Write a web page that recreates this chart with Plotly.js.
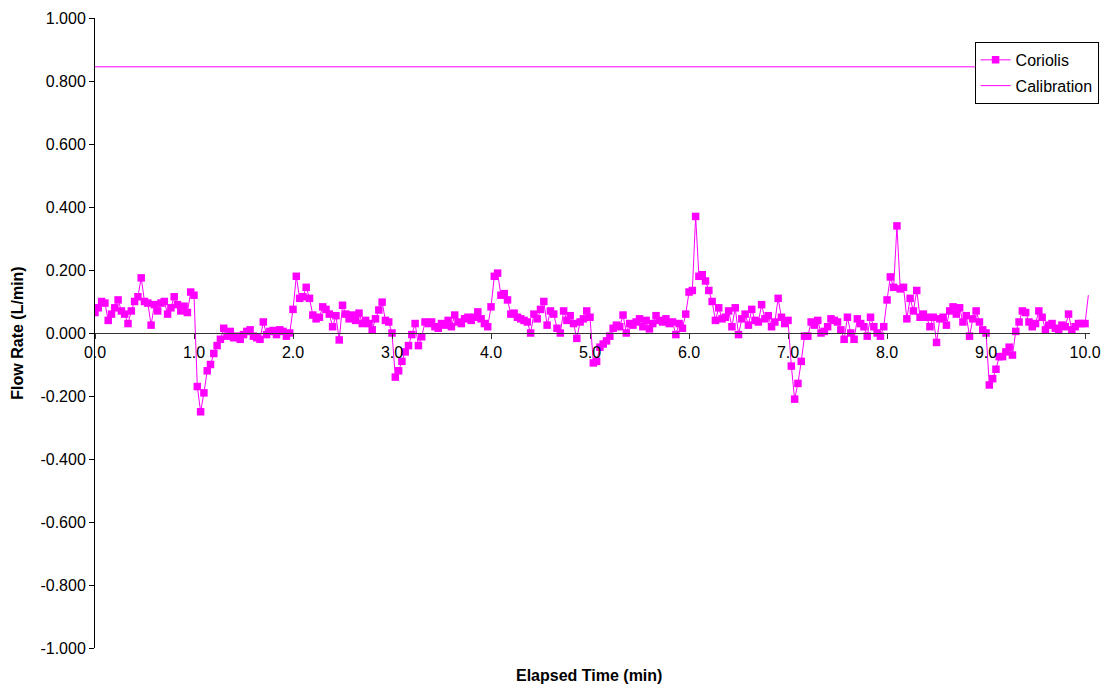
<!DOCTYPE html>
<html>
<head>
<meta charset="utf-8">
<script src="https://cdn.plot.ly/plotly-3.0.1.min.js"></script>
<style>html,body{margin:0;padding:0;background:#fff;}#chart{width:1105px;height:688px;}</style>
</head>
<body>
<div id="chart"></div>
<script>
// Coriolis flow rate (L/min), one reading every 2 s (1/30 min), grouped by minute
const coriolisMin0 = [0.065,0.080,0.100,0.095,0.040,0.060,0.080,0.105,0.070,0.060,0.030,0.070,0.100,0.115,0.175,0.100,0.095,0.025,0.090,0.070,0.095,0.100,0.060,0.080,0.115,0.090,0.070,0.085,0.065,0.130];
const coriolisMin1 = [0.120,-0.170,-0.250,-0.190,-0.120,-0.100,-0.065,-0.040,-0.020,0.015,-0.010,0.005,-0.015,-0.010,-0.020,-0.005,0.005,0.010,-0.010,-0.015,-0.020,0.035,-0.005,0.005,0.008,-0.005,0.010,0.005,-0.010,0.000];
const coriolisMin2 = [0.075,0.180,0.110,0.115,0.145,0.110,0.057,0.045,0.050,0.083,0.075,0.060,0.020,0.055,-0.022,0.088,0.060,0.045,0.057,0.040,0.063,0.030,0.040,0.030,0.010,0.045,0.073,0.098,0.040,0.035];
const coriolisMin3 = [0.000,-0.140,-0.120,-0.090,-0.060,-0.040,-0.005,0.030,-0.040,-0.012,0.035,0.030,0.035,0.020,0.015,0.030,0.025,0.040,0.020,0.057,0.035,0.030,0.045,0.050,0.040,0.050,0.067,0.045,0.030,0.020];
const coriolisMin4 = [0.083,0.180,0.190,0.120,0.125,0.105,0.060,0.063,0.050,0.045,0.040,0.035,0.000,0.060,0.045,0.075,0.100,0.025,0.070,0.060,0.015,0.000,0.070,0.040,0.055,0.030,-0.017,0.035,0.045,0.070];
const coriolisMin5 = [0.050,-0.095,-0.090,-0.045,-0.035,-0.025,-0.010,0.015,0.025,0.020,0.057,0.000,0.030,0.025,0.035,0.045,0.020,0.040,0.013,0.030,0.055,0.040,0.035,0.045,0.030,0.035,-0.005,0.030,0.015,0.060];
const coriolisMin6 = [0.130,0.135,0.370,0.180,0.185,0.165,0.135,0.100,0.040,0.080,0.045,0.050,0.070,0.020,0.080,-0.005,0.045,0.060,0.025,0.075,0.040,0.035,0.090,0.045,0.055,0.020,0.035,0.110,0.050,0.030];
const coriolisMin7 = [0.040,-0.105,-0.210,-0.160,-0.090,-0.010,-0.010,0.035,0.025,0.040,0.000,0.005,0.020,0.045,0.040,0.035,0.010,-0.020,0.050,0.000,-0.020,0.045,0.030,0.020,-0.010,0.050,0.020,0.000,-0.010,0.020];
const coriolisMin8 = [0.105,0.178,0.145,0.340,0.140,0.145,0.045,0.110,0.070,0.135,0.050,0.060,0.050,0.020,0.050,-0.030,0.045,0.050,0.025,0.070,0.083,0.060,0.080,0.035,0.055,-0.010,0.045,0.070,0.035,0.010];
const coriolisMin9 = [0.000,-0.165,-0.145,-0.115,-0.075,-0.075,-0.060,-0.045,-0.070,0.005,0.035,0.070,0.065,0.035,0.020,0.030,0.070,0.050,0.010,0.025,0.030,0.015,0.010,0.025,0.020,0.060,0.010,0.020,0.030,0.030];
const coriolisMin10 = [0.030,0.120];
const sampleStartMin = 0;
const sampleStepMin = 1 / 30;

// Calibration reference flow (L/min)
const calibrationTime = [0, 10.2];
const calibrationValue = [0.845, 0.845];

// Tick labels
const xTickVals = [0,1,2,3,4,5,6,7,8,9,10];
const xTickText = ['0.0','1.0','2.0','3.0','4.0','5.0','6.0','7.0','8.0','9.0','10.0'];
const yTickVals = [1,0.8,0.6,0.4,0.2,0,-0.2,-0.4,-0.6,-0.8,-1];
const yTickText = ['1.000','0.800','0.600','0.400','0.200','0.000','-0.200','-0.400','-0.600','-0.800','-1.000'];

const coriolis = [].concat(coriolisMin0, coriolisMin1, coriolisMin2, coriolisMin3, coriolisMin4,
  coriolisMin5, coriolisMin6, coriolisMin7, coriolisMin8, coriolisMin9, coriolisMin10);
const nIn = coriolis.length - 1;              // readings drawn with markers
const coriolisShown = coriolis.slice(0, nIn);
const coriolisTail = coriolis.slice(nIn - 1);  // final segment at the axis end (no marker)

const MAG = '#FF00FF';
const FONT = 'Liberation Sans, Arial, sans-serif';

const traces = [
  {
    type: 'scatter', mode: 'lines+markers', name: 'Coriolis',
    y: coriolisShown, x0: sampleStartMin, dx: sampleStepMin,
    line: {color: MAG, width: 1},
    marker: {color: MAG, symbol: 'square', size: 7.5},
    legendgroup: 'a'
  },
  {
    type: 'scatter', mode: 'lines', name: 'Coriolis', showlegend: false,
    y: coriolisTail, x0: sampleStartMin + (nIn - 1) * sampleStepMin, dx: sampleStepMin,
    line: {color: MAG, width: 1},
    legendgroup: 'a', hoverinfo: 'skip'
  },
  {
    type: 'scatter', mode: 'lines', name: 'Calibration',
    x: calibrationTime, y: calibrationValue,
    line: {color: MAG, width: 1},
    legendgroup: 'b'
  }
];

const layout = {
  width: 1105, height: 688,
  margin: {l: 95, r: 15, t: 18, b: 40, autoexpand: false},
  paper_bgcolor: '#fff', plot_bgcolor: '#fff',
  font: {family: FONT, size: 16, color: '#000'},
  showlegend: true,
  legend: {
    x: 0.884, y: 0.962, xanchor: 'left', yanchor: 'top',
    bgcolor: '#fff', bordercolor: '#000', borderwidth: 1,
    font: {family: FONT, size: 16, color: '#000'},
    tracegroupgap: 2, traceorder: 'grouped'
  },
  xaxis: {
    range: [0, 10.05], anchor: 'free', position: 0.5,
    showline: true, linecolor: '#333', linewidth: 1,
    showgrid: false, zeroline: false,
    ticks: 'outside', ticklen: 5, tickcolor: '#333',
    tickvals: xTickVals, ticktext: xTickText,
    tickfont: {family: FONT, size: 16, color: '#000'}
  },
  yaxis: {
    range: [-1, 1],
    showline: true, linecolor: '#000', linewidth: 1,
    showgrid: false, zeroline: false,
    ticks: 'outside', ticklen: 5, tickcolor: '#000',
    tickvals: yTickVals, ticktext: yTickText,
    tickfont: {family: FONT, size: 16, color: '#000'},
    title: {text: 'Flow Rate (L/min)', font: {family: FONT, size: 16, color: '#000', weight: 'bold'}, standoff: 12}
  },
  annotations: [{
    text: '<b>Elapsed Time (min)</b>', xref: 'paper', yref: 'paper',
    x: 0.496, y: -0.043, xanchor: 'center', yanchor: 'middle', showarrow: false,
    font: {family: FONT, size: 16, color: '#000'}
  }]
};

Plotly.newPlot('chart', traces, layout, {displayModeBar: false, staticPlot: true});
</script>
</body>
</html>
